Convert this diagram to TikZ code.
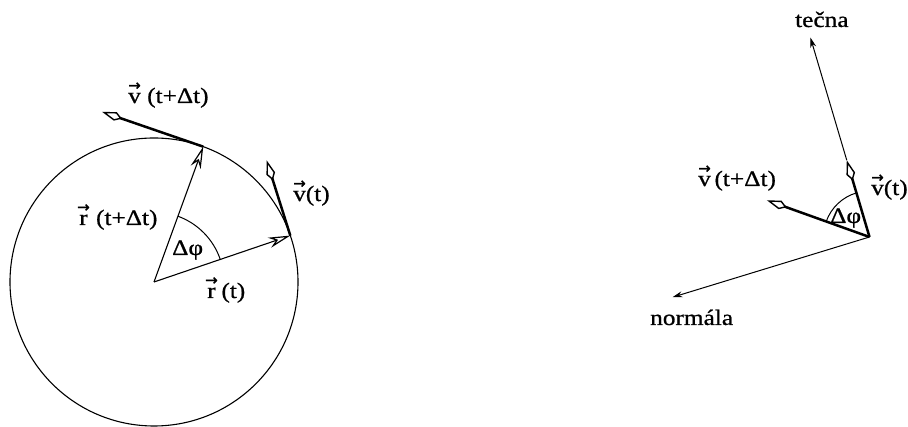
\documentclass[tikz,border=0pt]{standalone}
\usepackage{fontspec}
\setmainfont{Liberation Serif}
\newfontfamily\lblfont[FakeStretch=1.15,FakeBold=0.8]{Liberation Serif}
\newfontfamily\arrfont[FakeBold=1]{DejaVu Sans}
\usetikzlibrary{arrows.meta,calc}
\newcommand\vecsym[1]{\vbox{\offinterlineskip\halign{\hfil##\hfil\cr
  {\fontsize{15}{15}\arrfont →}\cr\noalign{\kern2.5pt}#1\cr}}}
\begin{document}
\begin{tikzpicture}[x=1pt,y=1pt,
  lbl/.style={anchor=base west, inner sep=0pt, font=\fontsize{22}{25}\lblfont},
  circ/.style={line width=1.1pt},
  vel/.style={line width=2.5pt, -{Kite[open, length=21pt, width=9pt, inset=7pt, line width=1.4pt]}},
  rad/.style={line width=1.1pt, -{Stealth[open, length=22pt, width=10.5pt, inset=7pt, line width=1.2pt]}},
  axisln/.style={line width=1pt, -{Stealth[length=10pt, width=6pt]}},
  anglearc/.style={line width=1pt}]
\useasboundingbox (0,0) rectangle (908,427);
% ---------- left diagram ----------
\coordinate (O) at (154,145);
\draw[circ] (O) circle[radius=144];
\coordinate (A) at ($(O)+(18.8:144)$);
\coordinate (B) at ($(O)+(70:144)$);
\coordinate (C) at ($(A)+(107.5:79)$);
\coordinate (D) at ($(B)+(161:107)$);
\draw[anglearc] ($(O)+(18.8:70)$) arc[start angle=18.8, end angle=70, radius=70];
\draw[rad] (O) -- (A);
\draw[rad] (O) -- (B);
\draw[vel] (A) -- (C);
\draw[vel] (B) -- (D);
\node[lbl] (lvdt) at (128,324) {\vecsym{v} (t+Δt)};
\node[lbl] (lvt) at (293,226) {\vecsym{v}(t)};
\node[lbl] (lrdt) at (77,202) {\vecsym{r} (t+Δt)};
\node[lbl] (lphi) at (172,172) {Δφ};
\node[lbl] (lrt) at (205,129) {\vecsym{r}\,(t)};
% ---------- right diagram ----------
\coordinate (P) at (869.5,190);
\coordinate (C2) at ($(P)+(106.5:80)$);
\coordinate (D2) at ($(P)+(160.3:109)$);
\coordinate (T) at ($(P)+(106.5:208)$);
\coordinate (N) at ($(P)+(197:206)$);
\draw[axisln] (C2) -- (T);
\draw[axisln] (P) -- (N);
\draw[anglearc] ($(P)+(106.5:46)$) arc[start angle=106.5, end angle=160.3, radius=46];
\draw[vel] (P) -- (C2);
\draw[vel] (P) -- (D2);
\node[lbl] (rvdt) at (698,241) {\vecsym{v}\,(t+Δt)};
\node[lbl] (rvt) at (871,232) {\vecsym{v}(t)};
\node[lbl] (rphi) at (830,204) {Δφ};
\node[lbl] (tec) at (795,400) {tečna};
\node[lbl] (nor) at (650,102) {normála};
\end{tikzpicture}
\end{document}
